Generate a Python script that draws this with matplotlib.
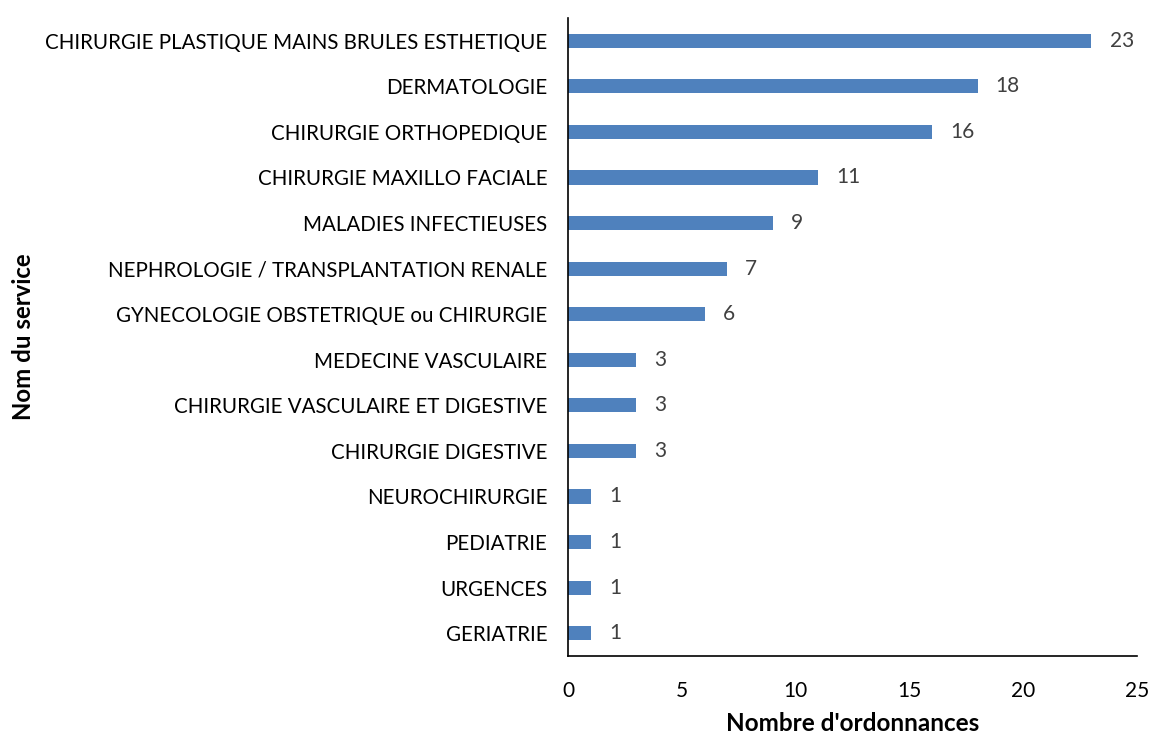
import matplotlib.pyplot as plt

plt.rcParams['font.family'] = ['Lato', 'DejaVu Sans']

# Services et nombre d'ordonnances
services = ['CHIRURGIE PLASTIQUE MAINS BRULES ESTHETIQUE', 'DERMATOLOGIE',
            'CHIRURGIE ORTHOPEDIQUE', 'CHIRURGIE MAXILLO FACIALE',
            'MALADIES INFECTIEUSES', 'NEPHROLOGIE / TRANSPLANTATION RENALE',
            'GYNECOLOGIE OBSTETRIQUE ou CHIRURGIE', 'MEDECINE VASCULAIRE',
            'CHIRURGIE VASCULAIRE ET DIGESTIVE', 'CHIRURGIE DIGESTIVE',
            'NEUROCHIRURGIE', 'PEDIATRIE', 'URGENCES', 'GERIATRIE']
ordonnances = [23, 18, 16, 11, 9, 7, 6, 3, 3, 3, 1, 1, 1, 1]
xticks = [0, 5, 10, 15, 20, 25]

fig = plt.figure(figsize=(11.53, 7.34), dpi=100)
ax = fig.add_axes([0.4926, 0.1063, 0.4935, 0.8692])

pos = list(range(len(services)))[::-1]
bars = ax.barh(pos, ordonnances, height=0.31, color='#4F81BD')
ax.bar_label(bars, padding=13, fontsize=15, color='#404040')

ax.set_yticks(pos)
ax.set_yticklabels(services, fontsize=14.8)
ax.set_ylim(-0.5, len(services) - 0.5)
ax.set_xlim(0, 25)
ax.set_xticks(xticks)
ax.tick_params(axis='x', labelsize=15, length=0, pad=18, colors='#000000')
ax.tick_params(axis='y', length=0, pad=15)

for s in ['top', 'right']:
    ax.spines[s].set_visible(False)
ax.spines['left'].set_color('black')
ax.spines['bottom'].set_color('black')
ax.spines['left'].set_linewidth(1.2)
ax.spines['bottom'].set_linewidth(1.2)

ax.set_xlabel("Nombre d'ordonnances", fontsize=17.5, fontweight='bold', labelpad=8)
fig.text(0.02, 0.541, 'Nom du service', rotation=90, fontsize=17.3,
         fontweight='bold', ha='center', va='center')

plt.savefig('out.png', dpi=100)
